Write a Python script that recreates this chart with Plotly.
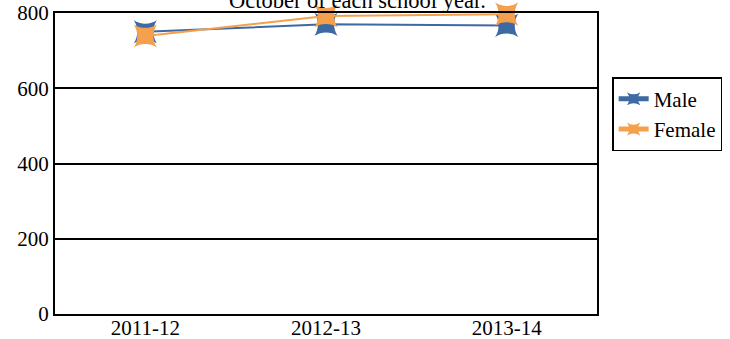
import plotly.graph_objects as go

categories = ["2011-12", "2012-13", "2013-14"]
male = [750, 770, 767]
female = [739, 792, 797]
y_ticks = [0, 200, 400, 600, 800]
title_text = "October of each school year."

font = dict(family="Liberation Serif", size=21, color="black")
title_font = dict(family="Liberation Serif", size=22.5, color="black")

fig = go.Figure()
fig.add_trace(go.Scatter(
    x=categories, y=male, name="Male", mode="lines+markers",
    line=dict(color="#3D6AA2", width=2),
    marker=dict(symbol="star-square", size=21, color="#3D6AA2"),
    cliponaxis=False,
))
fig.add_trace(go.Scatter(
    x=categories, y=female, name="Female", mode="lines+markers",
    line=dict(color="#F4A04C", width=2),
    marker=dict(symbol="star-square", size=21, color="#F4A04C"),
    cliponaxis=False,
))

fig.update_layout(
    width=730, height=339,
    margin=dict(l=55, r=133, t=13, b=25, autoexpand=False),
    paper_bgcolor="white", plot_bgcolor="white",
    font=font,
    showlegend=True,
    legend=dict(x=1.028, y=0.787, xanchor="left", yanchor="top",
                bordercolor="black", borderwidth=1.5, font=font,
                itemsizing="constant", itemwidth=30),
    xaxis=dict(type="category", range=[-0.5, 2.5], showgrid=False, showline=True,
               mirror=True, linecolor="black", linewidth=2, ticks="",
               tickfont=font, automargin=False, tickangle=0,
               ticklabelstandoff=-6),
    yaxis=dict(range=[0, 800], tickvals=y_ticks, showgrid=True, gridcolor="black",
               gridwidth=2, showline=True, mirror=True, linecolor="black",
               linewidth=2, ticks="", tickfont=font, zeroline=False,
               automargin=False),
    annotations=[dict(text=title_text, xref="paper", yref="paper",
                      x=0.559, y=1.0, yshift=-2, xanchor="center", yanchor="bottom",
                      showarrow=False, font=title_font)],
)

fig.write_html("out.html", config={"displayModeBar": False},
               post_script="document.body.style.margin='0';document.body.style.padding='0';")
